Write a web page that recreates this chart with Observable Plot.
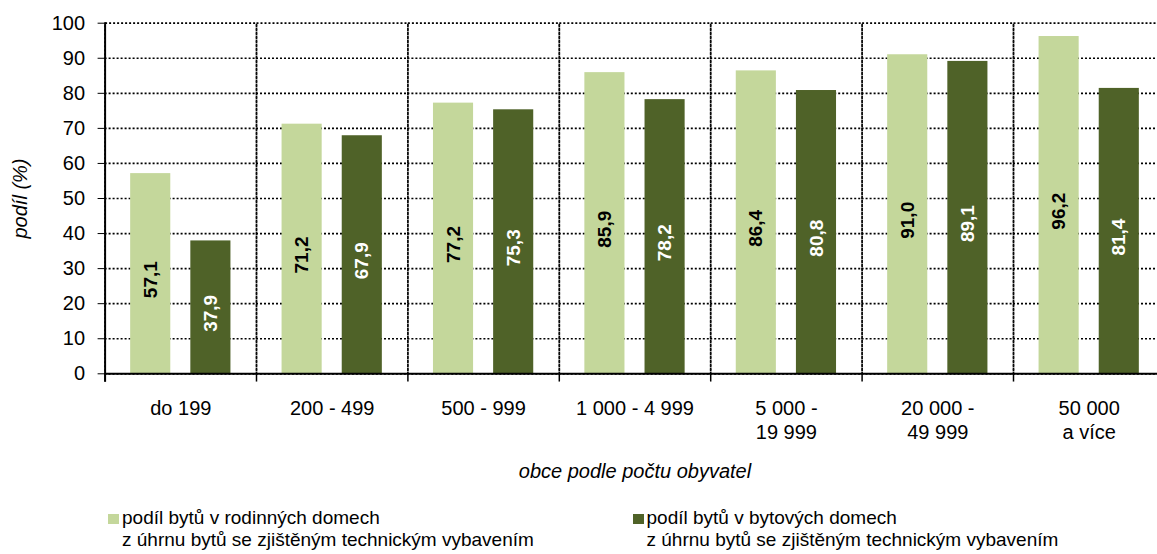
<!DOCTYPE html>
<html>
<head>
<meta charset="utf-8">
<script src="https://cdn.jsdelivr.net/npm/d3@7"></script>
<script src="https://cdn.jsdelivr.net/npm/@observablehq/plot@0.6"></script>
<style>
  html, body { margin: 0; padding: 0; background: #fff; }
  body { font-family: "Liberation Sans", Arial, sans-serif; color: #000; width: 1157px; height: 554px; overflow: hidden; }
  #chart svg { display: block; }
  g[aria-label="fx-axis label"] text { font-style: italic; font-size: 20px; }
  g[aria-label="y-axis label"] text { font-style: italic; font-size: 20px; }
  .legend { display: flex; padding-left: 108px; margin-top: 17px; font-size: 19px; line-height: 22px; }
  .item { display: flex; width: 539px; }
  .sw { width: 11px; height: 10px; margin-top: 7px; margin-right: 3px; flex: none; }
</style>
</head>
<body>
<div id="chart"></div>
<div class="legend" id="legend"></div>
<script>
// ---- data ----
const categories = ["do 199", "200 - 499", "500 - 999", "1 000 - 4 999", "5 000 -\n19 999", "20 000 -\n49 999", "50 000\na více"];
const seriesNames = ["rodinné domy", "bytové domy"];
const familyHouses = [57.1, 71.2, 77.2, 85.9, 86.4, 91.0, 96.2];
const apartmentHouses = [37.9, 67.9, 75.3, 78.2, 80.8, 89.1, 81.4];
const yTicks = [0, 10, 20, 30, 40, 50, 60, 70, 80, 90, 100];
const seriesColors = ["#c4d79b", "#4f6228"];
const legendLines = [
  ["podíl bytů v rodinných domech", "z úhrnu bytů se zjištěným technickým vybavením"],
  ["podíl bytů v bytových domech", "z úhrnu bytů se zjištěným technickým vybavením"]
];
const yLabel = "podíl (%)";
const xLabel = "obce podle počtu obyvatel";

// ---- table ----
const data = categories.flatMap((c, i) => [
  {cat: c, series: seriesNames[0], value: familyHouses[i]},
  {cat: c, series: seriesNames[1], value: apartmentHouses[i]}
]);
const fmt = v => v.toFixed(1).replace(".", ",");

const W = 1157, H = 490, MT = 22.7, MB = H - 373.3;
const innerH = H - MT - MB;

const chart = Plot.plot({
  width: W,
  height: H,
  marginTop: MT,
  marginBottom: MB,
  marginLeft: 104.6,
  marginRight: -7.4,
  style: {fontFamily: "'Liberation Sans', Arial, sans-serif", fontSize: "20px", color: "#000", background: "#fff", overflow: "hidden"},
  fx: {domain: categories, padding: 0, round: false, label: null},
  x: {domain: seriesNames, paddingInner: 1/3, paddingOuter: 0.425, round: false, axis: null},
  y: {domain: [0, 100], axis: null},
  color: {domain: seriesNames, range: seriesColors},
  marks: [
    Plot.gridY({ticks: yTicks.filter(t => t > 0 && t < 100), stroke: "#000", strokeOpacity: 1, strokeDasharray: "2 2", strokeWidth: 1.7}),
    Plot.frame({stroke: "#000", strokeDasharray: "2 2", strokeWidth: 1.7}),
    Plot.barY(data, {fx: "cat", x: "series", y: "value", fill: "series"}),
    Plot.text(data.filter(d => d.series === seriesNames[0]), {fx: "cat", x: "series", y: d => d.value / 2, text: d => fmt(d.value), rotate: -90, fontWeight: "bold", fontSize: 19, fill: "#000", dy: 6}),
    Plot.text(data.filter(d => d.series === seriesNames[1]), {fx: "cat", x: "series", y: d => d.value / 2, text: d => fmt(d.value), rotate: -90, fontWeight: "bold", fontSize: 19, fill: "#fff", dy: 6}),
    Plot.ruleY([0], {stroke: "#000", strokeWidth: 2}),
    Plot.frame({anchor: "left", insetTop: innerH, insetBottom: -7, stroke: "#000", strokeWidth: 1.5}),
    Plot.frame({anchor: "left", facetAnchor: "left", insetBottom: -7, stroke: "#000", strokeWidth: 2}),
    Plot.axisY({ticks: yTicks, tickSize: 7, tickPadding: 13, tickFormat: d => String(d), label: null, fontSize: 20, stroke: "#000"}),
    Plot.axisY({ticks: [], tickSize: 0, label: yLabel, labelAnchor: "center", labelArrow: "none", labelOffset: 92, fontSize: 20, fontStyle: "italic"}),
    Plot.axisFx({anchor: "bottom", tickSize: 0, tickPadding: 24, fontSize: 20, lineHeight: 1.2, label: xLabel, labelAnchor: "center", labelArrow: "none", labelOffset: 104})
  ]
});
document.getElementById("chart").appendChild(chart);

// ---- legend ----
const legend = document.getElementById("legend");
legendLines.forEach((lines, i) => {
  const item = document.createElement("div");
  item.className = "item";
  const sw = document.createElement("div");
  sw.className = "sw";
  sw.style.background = seriesColors[i];
  const txt = document.createElement("div");
  txt.innerHTML = lines.map(l => `<div>${l}</div>`).join("");
  item.appendChild(sw);
  item.appendChild(txt);
  legend.appendChild(item);
});
</script>
</body>
</html>
